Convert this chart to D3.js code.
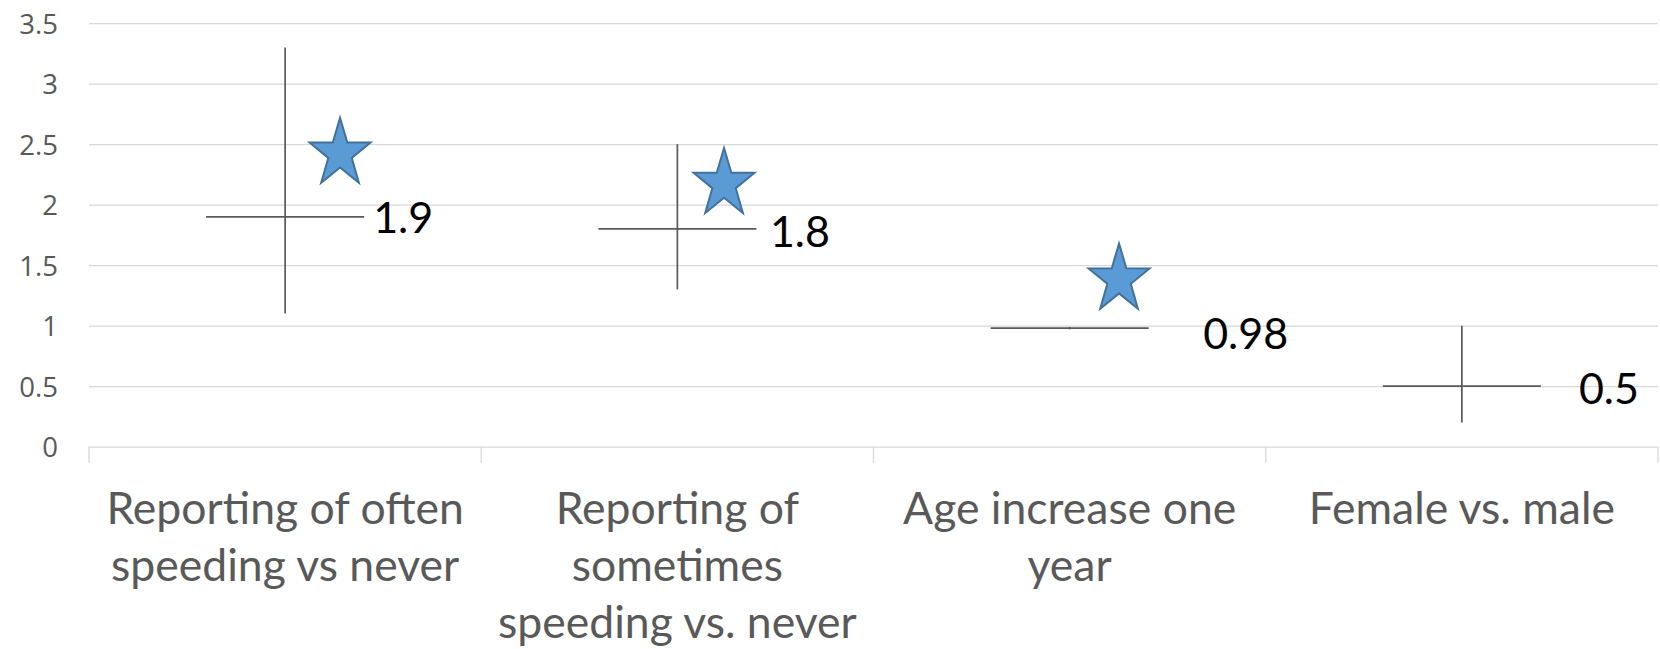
<!DOCTYPE html>
<html><head><meta charset="utf-8">
<script src="https://cdn.jsdelivr.net/npm/d3@7"></script>
<style>body{margin:0;background:#fff}svg{display:block}</style>
</head><body><svg id="chart" width="1660" height="649"></svg>
<script>
// ---- data ----
const categories = [
  ["Reporting of often", "speeding vs never"],
  ["Reporting of", "sometimes", "speeding vs. never"],
  ["Age increase one", "year"],
  ["Female vs. male"]
];
const oddsRatio = [1.9, 1.8, 0.98, 0.5];
const ciLow = [1.1, 1.3, 0.97, 0.2];
const ciHigh = [3.3, 2.5, 0.99, 1.0];
const valueLabels = ["1.9", "1.8", "0.98", "0.5"];
// significance stars (scatter series: x in category units, y in value units)
const starX = [0.64, 1.619, 2.626];
const starY = [2.45, 2.2, 1.41];
const yTicks = [0, 0.5, 1, 1.5, 2, 2.5, 3, 3.5];

// ---- layout ----
const L = 89, R = 1658, T = 23.2, B = 446.7;
const capHalf = 79;
const labelDx = [88, 92.5, 133.5, 117];
const labelDy = [16.5, 18.5, 20.5, 17.5];

const svg = d3.select("#chart");
const x = d3.scaleBand().domain(d3.range(categories.length)).range([L, R]).padding(0);
const xs = d3.scaleLinear().domain([0, categories.length]).range([L, R]);
const y = d3.scaleLinear().domain([0, 3.5]).range([B, T]);

// grid + y labels
const yAxis = svg.append("g").attr("transform", `translate(${L},0)`)
  .call(d3.axisLeft(y).tickValues(yTicks).tickSize(-(R - L)).tickPadding(31).tickFormat(d3.format("")));
yAxis.select(".domain").remove();
yAxis.selectAll(".tick line").attr("stroke", "#d9d9d9").attr("stroke-width", 1.3);
yAxis.selectAll(".tick text")
  .attr("fill", "#595959").attr("font-family", "'Open Sans', sans-serif")
  .attr("font-size", 27.5).attr("dy", null).attr("y", 10);

// category boundary ticks
const bounds = d3.range(categories.length).map(i => x(i)).concat([x.range()[1]]);
svg.append("g").selectAll("line").data(bounds).join("line")
  .attr("x1", d => d).attr("x2", d => d).attr("y1", B).attr("y2", B + 16)
  .attr("stroke", "#d9d9d9").attr("stroke-width", 1.3);

// category labels
const cx = i => x(i) + x.bandwidth() / 2;
const cat = svg.append("g").attr("fill", "#595959")
  .attr("font-family", "Lato, sans-serif").attr("font-size", 44.5).attr("text-anchor", "middle");
categories.forEach((lines, i) => {
  const t = cat.append("text").attr("x", cx(i)).attr("y", 524);
  lines.forEach((ln, j) => t.append("tspan").attr("x", cx(i)).attr("y", 524 + j * 57).text(ln));
});

// high-low lines + value caps
const g = svg.append("g").attr("stroke", "#595959").attr("stroke-width", 1.7);
oddsRatio.forEach((v, i) => {
  g.append("line").attr("x1", cx(i)).attr("x2", cx(i)).attr("y1", y(ciLow[i])).attr("y2", y(ciHigh[i]));
  g.append("line").attr("x1", cx(i) - capHalf).attr("x2", cx(i) + capHalf).attr("y1", y(v)).attr("y2", y(v));
});

// value labels
svg.append("g").attr("fill", "#000").attr("font-family", "Lato, sans-serif").attr("font-size", 43)
  .selectAll("text").data(valueLabels).join("text")
  .attr("x", (d, i) => cx(i) + labelDx[i])
  .attr("y", (d, i) => y(oddsRatio[i]) + labelDy[i])
  .text(d => d);

// stars
function starPath(Rad, sx) {
  const pts = d3.range(10).map(k => {
    const a = (-90 + k * 36) * Math.PI / 180;
    const r = k % 2 ? Rad * 0.385 : Rad;
    return [r * Math.cos(a) * sx, r * Math.sin(a)];
  });
  return "M" + pts.map(p => p.join(",")).join("L") + "Z";
}
const Rs = 36, sxs = 0.89;
const off = 0.0955 * Rs;
svg.append("g").selectAll("path").data(starY).join("path")
  .attr("d", starPath(Rs, sxs))
  .attr("transform", (d, i) => `translate(${xs(starX[i])},${y(d) + off})`)
  .attr("fill", "#5B9BD5").attr("stroke", "#41719C").attr("stroke-width", 2)
  .attr("stroke-linejoin", "miter");
</script></body></html>
